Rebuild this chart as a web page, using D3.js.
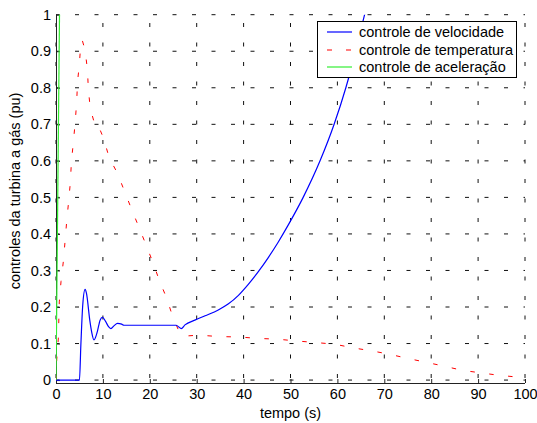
<!DOCTYPE html>
<html><head><meta charset="utf-8">
<script src="https://cdn.jsdelivr.net/npm/d3@7"></script>
<style>
body{margin:0;background:#fff;}
svg{display:block;font-family:"Liberation Sans",Arial,Helvetica,sans-serif;}
</style></head>
<body>
<svg id="c" width="537" height="423"></svg>
<script>
// Data
const velT = [0,5.0,5.3,5.7,6.2,6.5,7.2,7.6,8.1,8.8,9.4,9.9,10.6,11.2,11.7,12.4,13.1,14.0,14.5,20,25.6,26.7,27.5,29.6,31.8,34.6,36.7,38.9,41.0,43.1,45.3,47.4,49.5,52.7,56.3,59.3,61.8,63.9,65.8,67];
const velV = [0,0,0.096,0.205,0.248,0.237,0.164,0.132,0.11,0.132,0.164,0.172,0.16,0.146,0.141,0.149,0.155,0.153,0.15,0.15,0.15,0.141,0.151,0.164,0.176,0.192,0.208,0.232,0.262,0.296,0.336,0.378,0.424,0.5,0.6,0.7,0.8,0.9,1.0,1.06];
const tempT = [0,0.15,0.5,0.7,1.07,1.56,1.92,2.27,2.7,3.05,3.3,3.7,4.1,4.4,4.6,5.0,5.3,5.6,6.2,6.7,6.9,7.3,8.3,8.9,10.2,11.3,13.1,14.6,16.1,17.5,19.2,20.6,22,23.6,24.9,26.4,27,30.5,34.8,39,43.1,47.2,51.3,55.2,59.5,63.4,67.3,71,75.1,78.8,82.8,86.5,90.4,94.5,98.6,100];
const tempV = [0,0.055,0.115,0.214,0.27,0.324,0.378,0.433,0.49,0.54,0.6,0.65,0.707,0.76,0.817,0.867,0.925,0.93,0.903,0.85,0.796,0.744,0.698,0.70,0.66,0.61,0.566,0.517,0.468,0.424,0.37,0.324,0.274,0.224,0.173,0.128,0.12,0.123,0.119,0.118,0.114,0.112,0.107,0.103,0.098,0.088,0.08,0.071,0.059,0.049,0.038,0.027,0.02,0.013,0.008,0.007];
const acelT = [0,0.8];
const acelV = [0,1.07];
const xTicks = [0,10,20,30,40,50,60,70,80,90,100];
const yTicks = [0,0.1,0.2,0.3,0.4,0.5,0.6,0.7,0.8,0.9,1];
const seriesNames = ["controle de velocidade","controle de temperatura","controle de aceleração"];
const xLabel = "tempo (s)";
const yLabel = "controles da turbina a gás (pu)";

const svg = d3.select("#c");
const L = 56, R = 525, T = 14.7, B = 383;
const x = d3.scaleLinear().domain([0,100]).range([L,R]);
const y = d3.scaleLinear().domain([-0.008,1]).range([B,T]);

svg.append("defs").append("clipPath").attr("id","clip")
  .append("rect").attr("x",L).attr("y",T).attr("width",R-L).attr("height",B-T);

// grid
const g = svg.append("g");
g.selectAll(".hg").data(yTicks).join("line")
  .attr("x1",L).attr("x2",R).attr("y1",d=>y(d)).attr("y2",d=>y(d))
  .attr("stroke","#111").attr("stroke-width",1)
  .attr("stroke-dasharray","4,15.5").attr("stroke-dashoffset",0.5);
g.selectAll(".vg").data(xTicks).join("line")
  .attr("x1",d=>x(d)).attr("x2",d=>x(d)).attr("y1",B).attr("y2",T)
  .attr("stroke","#111").attr("stroke-width",1)
  .attr("stroke-dasharray","4,15.5").attr("stroke-dashoffset",-5);

// axes
const xa = svg.append("g").attr("transform",`translate(0,${B})`)
  .call(d3.axisBottom(x).tickValues(xTicks).tickSizeInner(-4).tickSizeOuter(0).tickPadding(8).tickFormat(d3.format("d")));
const ya = svg.append("g").attr("transform",`translate(${L},0)`)
  .call(d3.axisLeft(y).tickValues(yTicks).tickSizeInner(-4).tickSizeOuter(0).tickPadding(5).tickFormat(d=>d===0?"0":d===1?"1":d3.format(".1f")(d)));
[xa,ya].forEach(a=>{
  a.select(".domain").attr("stroke","#222").attr("stroke-width",1);
  a.selectAll(".tick line").attr("stroke","#222");
  a.selectAll("text").attr("font-size",14.5).attr("fill","#000").attr("font-family","Liberation Sans, Arial, sans-serif");
});
xa.selectAll("text").attr("dy","0.71em").attr("y",6);
xa.select(".domain").attr("d",`M${L},0.5H${R}`);
ya.select(".domain").attr("d",`M0.5,${T}V${B}`);

// series
const line = d3.line().x(d=>x(d[0])).y(d=>y(d[1]));
const smooth = d3.line().x(d=>x(d[0])).y(d=>y(d[1])).curve(d3.curveMonotoneX);
const plot = svg.append("g").attr("clip-path","url(#clip)");
plot.append("path").datum(d3.zip(tempT,tempV)).attr("d",line)
  .attr("fill","none").attr("stroke","#ff0000").attr("stroke-width",1).attr("stroke-dasharray","4.5,14.5");
plot.append("path").datum(d3.zip(velT,velV)).attr("d",smooth)
  .attr("fill","none").attr("stroke","#0000ff").attr("stroke-width",1.2);
plot.append("path").datum(d3.zip(acelT,acelV)).attr("d",line)
  .attr("fill","none").attr("stroke","#33ee33").attr("stroke-width",1.2);

// labels
svg.append("text").attr("x",(L+R)/2).attr("y",418).attr("text-anchor","middle")
  .attr("font-size",14.5).text(xLabel);
svg.append("text").attr("transform",`translate(20,${191}) rotate(-90)`).attr("text-anchor","middle")
  .attr("font-size",14.5).text(yLabel);

// legend
const lg = svg.append("g");
lg.append("rect").attr("x",317.5).attr("y",21.5).attr("width",199).attr("height",56)
  .attr("fill","#fff").attr("stroke","#000").attr("stroke-width",1);
const colors = ["#0000ff","#ff0000","#33ee33"];
const dashes = [null,"5,14",null];
const rows = [32,50,67];
seriesNames.forEach((n,i)=>{
  lg.append("line").attr("x1",327).attr("x2",352).attr("y1",rows[i]).attr("y2",rows[i])
    .attr("stroke",colors[i]).attr("stroke-width",1.2).attr("stroke-dasharray",dashes[i]);
  lg.append("text").attr("x",359).attr("y",rows[i]).attr("dy","0.35em").attr("font-size",14.5).text(n);
});
</script>
</body></html>
